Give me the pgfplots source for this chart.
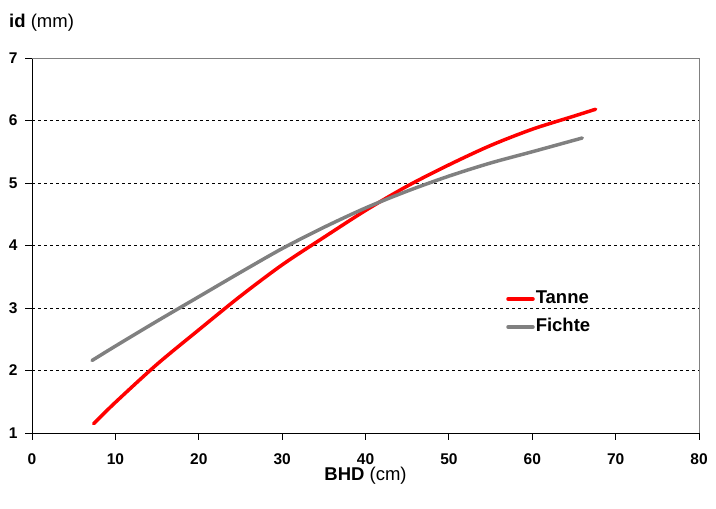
\documentclass[border=0pt]{standalone}
\usepackage{fontspec}
\setmainfont{Liberation Sans}
\usepackage{pgfplots}
\pgfplotsset{compat=1.18}
\definecolor{tanne}{HTML}{FF0000}
\definecolor{fichte}{HTML}{808080}
\begin{document}
\begin{tikzpicture}
\begin{axis}[
 name=ax,
 scale only axis, width=667bp, height=375bp,
 xmin=0, xmax=80, ymin=1, ymax=7,
 xtick={0,10,...,80}, ytick={1,2,...,7},
 axis x line*=bottom, axis y line*=left,
 axis line style={black, line width=0.8pt, -},
 tick align=outside, major tick length=7bp,
 tick style={black, line width=0.8pt},
 ymajorgrids, major grid style={black, line width=0.8pt, dash pattern=on 3bp off 3bp},
 /pgf/number format/assume math mode=true,
 ticklabel style={font=\fontsize{15.5bp}{18bp}\selectfont\bfseries},
 xticklabel style={yshift=-10bp},
 yticklabel style={xshift=-4bp},
 xlabel={\textbf{BHD} (cm)},
 xlabel style={font=\fontsize{18.5bp}{20bp}\selectfont, yshift=4bp},
 legend style={at={(axis cs:56.5,3.33)}, anchor=north west, draw=none, fill=none,
   font=\fontsize{18.5bp}{20bp}\selectfont\bfseries, row sep=9bp,
   nodes={inner sep=1bp, text height=13bp, text depth=4bp}},
 legend cell align=left,
 legend image code/.code={\draw[#1] (0bp,0bp) -- (25bp,0bp);},
]
\addplot[tanne, line width=3.5pt, smooth, line cap=round] coordinates {
 (7.4,1.15) (10,1.49) (15,2.10) (20,2.65) (25,3.19) (30,3.69)
 (35,4.13) (40,4.56) (45,4.95) (50,5.29) (55,5.60) (60,5.86) (65,6.07) (67.6,6.18)};
\addlegendentry{Tanne}
\addplot[fichte, line width=3.5pt, smooth, line cap=round] coordinates {
 (7.2,2.16) (10,2.39) (15,2.79) (20,3.18) (25,3.57) (30,3.95) (35,4.29)
 (40,4.60) (45,4.87) (50,5.11) (55,5.32) (60,5.50) (66,5.72)};
\addlegendentry{Fichte}
\end{axis}
\node[anchor=base west, font=\fontsize{18.5bp}{20bp}\selectfont, inner sep=0pt]
  at (ax.north west) [xshift=-23bp, yshift=30bp] {\textbf{id} (mm)};
\draw[fichte, line width=0.8pt] (ax.north west) -- (ax.north east) -- (ax.south east);
\path (ax.south west) ++(-32bp,-76bp);
\path (ax.north east) ++(17bp,58bp);
\end{tikzpicture}
\end{document}
